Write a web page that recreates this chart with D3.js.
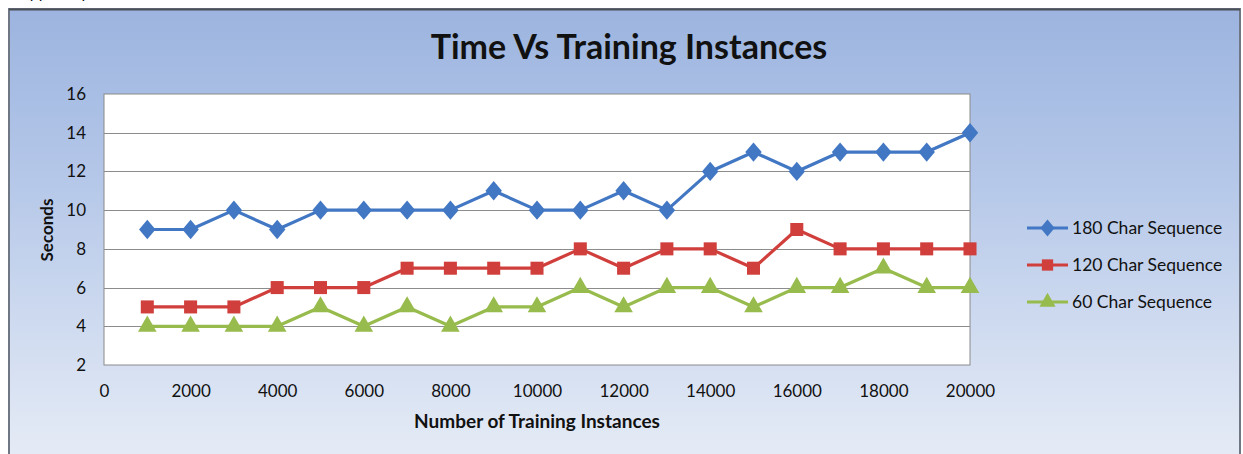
<!DOCTYPE html>
<html>
<head>
<meta charset="utf-8">
<script src="https://d3js.org/d3.v7.min.js"></script>
<style>
  body { margin: 0; background: #fff; }
  text { font-family: Lato, "Open Sans", sans-serif; fill: #111; }
</style>
</head>
<body>
<script>
// data
var instances = [1000, 2000, 3000, 4000, 5000, 6000, 7000, 8000, 9000, 10000,
                 11000, 12000, 13000, 14000, 15000, 16000, 17000, 18000, 19000, 20000];
var seq180 = [9, 9, 10, 9, 10, 10, 10, 10, 11, 10, 10, 11, 10, 12, 13, 12, 13, 13, 13, 14];
var seq120 = [5, 5, 5, 6, 6, 6, 7, 7, 7, 7, 8, 7, 8, 8, 7, 9, 8, 8, 8, 8];
var seq60  = [4, 4, 4, 4, 5, 4, 5, 4, 5, 5, 6, 5, 6, 6, 5, 6, 6, 7, 6, 6];
var seriesNames = ["180 Char Sequence", "120 Char Sequence", "60 Char Sequence"];
var xTicks = [0, 2000, 4000, 6000, 8000, 10000, 12000, 14000, 16000, 18000, 20000];
var yTicks = [2, 4, 6, 8, 10, 12, 14, 16];

var W = 1243, H = 454;
var plot = { left: 104, top: 94, right: 970, bottom: 365 };

var svg = d3.select("body").append("svg")
    .attr("width", W).attr("height", H);

var defs = svg.append("defs");
var bg = defs.append("linearGradient").attr("id", "bg")
    .attr("x1", 0).attr("y1", 0).attr("x2", 0).attr("y2", 1);
bg.append("stop").attr("offset", "0%").attr("stop-color", "#9cb4df");
bg.append("stop").attr("offset", "35%").attr("stop-color", "#b3c6e8");
bg.append("stop").attr("offset", "100%").attr("stop-color", "#e6ecf6");

// bottom of a line of page text above the chart, cut off like in the scan
svg.append("text").attr("x", 14).attr("y", -2)
    .style("font-size", "16px").text("support up")
    .attr("fill", "#222");

// outer frame
svg.append("rect").attr("x", 9).attr("y", 9).attr("width", 1231).attr("height", 452)
    .attr("fill", "url(#bg)").attr("stroke", "#6f7784").attr("stroke-width", 2);
svg.append("line").attr("x1", 9).attr("x2", 1240).attr("y1", 9.5).attr("y2", 9.5)
    .attr("stroke", "#4a4f58").attr("stroke-width", 2);

var x = d3.scaleLinear().domain([0, 20000]).range([plot.left, plot.right]);
var y = d3.scaleLinear().domain([2, 16]).range([plot.bottom, plot.top]);

svg.append("rect")
    .attr("x", plot.left).attr("y", plot.top)
    .attr("width", plot.right - plot.left).attr("height", plot.bottom - plot.top)
    .attr("fill", "#fff").attr("stroke", "#8a8a8a").attr("stroke-width", 1);

// gridlines
svg.append("g").selectAll("line").data(yTicks.slice(1, -1)).enter().append("line")
    .attr("x1", plot.left).attr("x2", plot.right)
    .attr("y1", function (d) { return Math.round(y(d)) + 0.5; })
    .attr("y2", function (d) { return Math.round(y(d)) + 0.5; })
    .attr("stroke", "#8c8c8c").attr("stroke-width", 1);

// axes (labels only, like the original)
var yAxis = svg.append("g")
    .attr("transform", "translate(" + (plot.left - 18) + ",0)")
    .call(d3.axisLeft(y).tickValues(yTicks).tickSize(0).tickPadding(0));
yAxis.select(".domain").remove();
yAxis.selectAll("text").style("font-size", "17px").style("font-family", "Lato, sans-serif")
    .attr("fill", "#111");

var xAxis = svg.append("g")
    .attr("transform", "translate(0," + (plot.bottom + 20) + ")")
    .call(d3.axisBottom(x).tickValues(xTicks).tickFormat(d3.format("d")).tickSize(0).tickPadding(0));
xAxis.select(".domain").remove();
xAxis.selectAll("text").style("font-size", "17px").style("font-family", "Lato, sans-serif")
    .attr("fill", "#111");

// titles
svg.append("text").attr("x", 629).attr("y", 59).attr("text-anchor", "middle")
    .style("font-size", "34px").style("font-weight", "bold").text("Time Vs Training Instances");
svg.append("text").attr("x", 537).attr("y", 428).attr("text-anchor", "middle")
    .style("font-size", "19px").style("font-weight", "bold").text("Number of Training Instances");
svg.append("text").attr("transform", "translate(53,230) rotate(-90)").attr("text-anchor", "middle")
    .style("font-size", "17px").style("font-weight", "bold").text("Seconds");

var colors = ["#4277c4", "#d03f3c", "#97bb4c"];
var shapes = [d3.symbolDiamond, d3.symbolSquare, d3.symbolTriangle];
var sizes = [150, 170, 150];
var allSeries = [seq180, seq120, seq60];

var line = d3.line()
    .x(function (d, i) { return x(instances[i]); })
    .y(function (d) { return y(d); });

allSeries.forEach(function (vals, k) {
    var g = svg.append("g");
    g.append("path").datum(vals)
        .attr("d", line)
        .attr("fill", "none").attr("stroke", colors[k]).attr("stroke-width", 3.2)
        .attr("stroke-linejoin", "round");
    g.selectAll("path.m").data(vals).enter().append("path").attr("class", "m")
        .attr("d", d3.symbol().type(shapes[k]).size(sizes[k]))
        .attr("transform", function (d, i) {
            return "translate(" + x(instances[i]) + "," + y(d) + ")" + (k === 0 ? " scale(1.25,0.85)" : "");
        })
        .attr("fill", colors[k]);
});

// legend
var legend = svg.append("g");
seriesNames.forEach(function (name, k) {
    var ly = 228 + k * 37;
    legend.append("line").attr("x1", 1027).attr("x2", 1068).attr("y1", ly).attr("y2", ly)
        .attr("stroke", colors[k]).attr("stroke-width", 3.2);
    legend.append("path")
        .attr("d", d3.symbol().type(shapes[k]).size(sizes[k] * 0.75))
        .attr("transform", "translate(1047.5," + ly + ")" + (k === 0 ? " scale(1.25,0.85)" : ""))
        .attr("fill", colors[k]);
    legend.append("text").attr("x", 1072).attr("y", ly + 6)
        .style("font-size", "17.5px").text(name);
});
</script>
</body>
</html>
